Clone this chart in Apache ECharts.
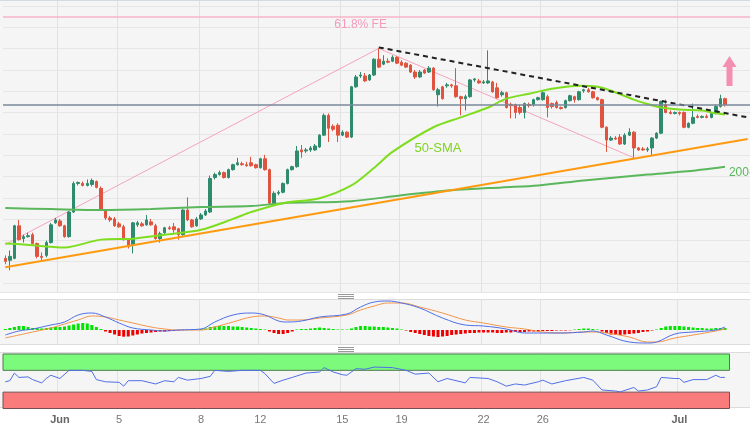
<!DOCTYPE html>
<html><head><meta charset="utf-8">
<script src="https://cdn.jsdelivr.net/npm/echarts/dist/echarts.min.js"></script>
<style>
html,body{margin:0;padding:0;background:#fff;}
#c{width:750px;height:430px;background:linear-gradient(to bottom,
 #d3dae6 0px,#d3dae6 1px,#f5f5f5 1px,#f5f5f5 292px,#e6e6e6 292px,#e6e6e6 293px,
 #ffffff 293px,#ffffff 299px,#dcdcdc 299px,#dcdcdc 300px,#f5f5f5 300px,#f5f5f5 344px,
 #dcdcdc 344px,#dcdcdc 345px,#ffffff 345px,#ffffff 352px,#dcdcdc 352px,#dcdcdc 353px,
 #f5f5f5 353px,#f5f5f5 407px,#dcdcdc 407px,#dcdcdc 408px,#ffffff 408px,#ffffff 430px);}
</style></head>
<body><div id="c"></div>
<script>
// 4-hour sessions: [day, first hour, number of bars]
const sessions = [['May 30',0,6],['May 31',0,6],['Jun 1',0,6],['Jun 2',0,6],['Jun 4',20,1],['Jun 5',0,6],['Jun 6',0,6],['Jun 7',0,6],['Jun 8',0,6],['Jun 9',0,6],['Jun 11',20,1],['Jun 12',0,6],['Jun 13',0,6],['Jun 14',0,6],['Jun 15',0,6],['Jun 16',0,6],['Jun 18',20,1],['Jun 19',0,6],['Jun 20',0,6],['Jun 21',0,6],['Jun 22',0,6],['Jun 23',0,6],['Jun 25',20,1],['Jun 26',0,6],['Jun 27',0,6],['Jun 28',0,6],['Jun 29',0,6],['Jun 30',0,6],['Jul 3',0,6],['Jul 4',0,6],['Jul 5',0,4]];
const tickLabels = {'Jun 1 00:00':'Jun','Jun 5 00:00':'5','Jun 8 00:00':'8','Jun 12 00:00':'12','Jun 15 00:00':'15','Jun 19 00:00':'19','Jun 22 00:00':'22','Jun 26 00:00':'26','Jul 3 00:00':'Jul'};

// candles: [open, close, low, high]
const ohlc = [
[.6010,.6007,.6004,.6013],[.6008,.6012,.5998,.6018],[.6010,.6043,.6009,.6044],[.6043,.6029,.6028,.6049],[.6030,.6032,.6026,.6034],[.6032,.6033,.6031,.6036],
[.6034,.6025,.6024,.6036],[.6025,.6012,.6010,.6026],[.6012,.6011,.6007,.6016],[.6013,.6026,.6011,.6028],[.6026,.6044,.6025,.6046],[.6046,.6049,.6045,.6051],
[.6048,.6043,.6042,.6050],[.6043,.6032,.6031,.6044],[.6032,.6057,.6031,.6058],[.6057,.6086,.6056,.6088],[.6086,.6087,.6084,.6088],[.6086,.6084,.6083,.6088],
[.6084,.6086,.6083,.6090],[.6085,.6089,.6083,.6091],[.6088,.6082,.6081,.6089],[.6081,.6059,.6058,.6083],[.6058,.6051,.6049,.6059],[.6051,.6049,.6047,.6053],
[.6050,.6043,.6042,.6052],[.6045,.6042,.6041,.6047],[.6042,.6029,.6028,.6044],[.6029,.6022,.6020,.6030],[.6024,.6046,.6015,.6047],[.6044,.6046,.6042,.6048],
[.6045,.6043,.6042,.6047],[.6044,.6049,.6043,.6054],[.6047,.6044,.6043,.6050],[.6043,.6030,.6029,.6045],[.6030,.6035,.6026,.6037],[.6036,.6041,.6034,.6042],
[.6041,.6040,.6039,.6043],[.6042,.6039,.6036,.6046],[.6040,.6034,.6029,.6041],[.6034,.6059,.6033,.6060],[.6059,.6049,.6048,.6072],[.6049,.6042,.6041,.6050],
[.6043,.6050,.6042,.6052],[.6050,.6054,.6049,.6056],[.6054,.6058,.6053,.6060],[.6057,.6091,.6056,.6094],[.6092,.6095,.6090,.6097],[.6095,.6097,.6094,.6099],
[.6097,.6092,.6091,.6098],[.6092,.6100,.6091,.6101],[.6100,.6105,.6099,.6106],[.6105,.6107,.6104,.6112],[.6106,.6105,.6104,.6108],[.6105,.6104,.6103,.6108],
[.6107,.6104,.6103,.6113],[.6105,.6102,.6101,.6106],[.6102,.6111,.6101,.6112],[.6111,.6100,.6099,.6115],[.6100,.6066,.6065,.6101],[.6066,.6076,.6064,.6078],
[.6076,.6077,.6074,.6079],[.6077,.6086,.6076,.6087],[.6086,.6100,.6085,.6101],[.6100,.6103,.6099,.6104],[.6103,.6119,.6102,.6124],[.6120,.6118,.6112,.6125],
[.6119,.6120,.6117,.6122],[.6120,.6122,.6118,.6124],[.6120,.6124,.6119,.6126],[.6123,.6135,.6122,.6136],[.6135,.6155,.6134,.6157],[.6155,.6142,.6128,.6157],
[.6144,.6141,.6139,.6146],[.6145,.6135,.6128,.6147],[.6135,.6138,.6134,.6140],[.6138,.6133,.6132,.6139],[.6133,.6184,.6132,.6185],[.6184,.6194,.6183,.6196],
[.6195,.6196,.6193,.6199],[.6195,.6190,.6189,.6198],[.6191,.6196,.6190,.6197],[.6196,.6212,.6195,.6213],[.6212,.6204,.6203,.6223],[.6207,.6210,.6206,.6216],
[.6210,.6209,.6208,.6213],[.6210,.6214,.6209,.6216],[.6214,.6208,.6207,.6215],[.6209,.6206,.6205,.6211],[.6208,.6204,.6203,.6209],[.6206,.6199,.6198,.6207],
[.6199,.6194,.6192,.6201],[.6194,.6199,.6193,.6201],[.6201,.6198,.6197,.6202],[.6199,.6203,.6198,.6205],[.6203,.6181,.6180,.6204],[.6176,.6181,.6164,.6183],
[.6184,.6172,.6171,.6185],[.6185,.6186,.6183,.6188],[.6186,.6185,.6183,.6187],[.6185,.6174,.6173,.6203],[.6174,.6172,.6155,.6175],[.6172,.6174,.6160,.6176],
[.6174,.6191,.6173,.6192],[.6191,.6192,.6189,.6193],[.6190,.6188,.6187,.6192],[.6188,.6189,.6187,.6191],[.6188,.6190,.6187,.6221],[.6189,.6179,.6178,.6190],
[.6183,.6173,.6172,.6188],[.6176,.6178,.6174,.6180],[.6178,.6163,.6162,.6179],[.6166,.6165,.6152,.6168],[.6166,.6158,.6152,.6167],[.6163,.6158,.6156,.6166],
[.6158,.6167,.6152,.6168],[.6166,.6165,.6163,.6168],[.6166,.6171,.6164,.6172],[.6171,.6173,.6170,.6174],[.6171,.6178,.6170,.6180],[.6174,.6163,.6153,.6176],
[.6167,.6164,.6162,.6168],[.6168,.6163,.6162,.6170],[.6163,.6162,.6161,.6164],[.6163,.6170,.6162,.6171],[.6170,.6175,.6169,.6176],[.6174,.6171,.6168,.6175],
[.6171,.6179,.6170,.6180],[.6180,.6181,.6178,.6182],[.6181,.6179,.6178,.6183],[.6179,.6173,.6172,.6180],[.6173,.6171,.6170,.6174],[.6171,.6143,.6142,.6172],
[.6143,.6130,.6118,.6144],[.6130,.6132,.6129,.6134],[.6132,.6131,.6130,.6134],[.6133,.6126,.6125,.6136],[.6126,.6135,.6125,.6137],[.6135,.6138,.6134,.6142],
[.6138,.6122,.6112,.6139],[.6122,.6120,.6119,.6123],[.6121,.6120,.6119,.6123],[.6120,.6121,.6118,.6123],[.6122,.6132,.6115,.6133],[.6132,.6137,.6131,.6138],
[.6137,.6169,.6136,.6170],[.6166,.6158,.6157,.6171],[.6158,.6157,.6156,.6160],[.6157,.6158,.6156,.6159],[.6158,.6157,.6155,.6159],[.6158,.6143,.6142,.6159],
[.6143,.6147,.6142,.6148],[.6147,.6153,.6146,.6167],[.6154,.6153,.6152,.6156],[.6153,.6154,.6152,.6155],[.6154,.6153,.6152,.6156],[.6153,.6157,.6152,.6158],
[.6157,.6164,.6156,.6166],[.6164,.6172,.6163,.6176],[.6172,.6166,.6164,.6173]
];

// moving averages: [bar index, value]
const sma50 = [[0,.6025],[4,.6024],[13,.6021],[21,.6029],[28,.6030],[35,.6034],[43,.6039],[50,.6050],[54,.6057],[61,.6066],[69,.6071],[76,.6084],[81,.6102],[85,.6118],[94,.6143],[100,.6153],[106,.6163],[110,.6172],[115,.6177],[120,.6182],[126,.6185],[130,.6184],[133,.6180],[138,.6171],[140,.6168],[144,.6163],[148,.6161],[153,.6160],[155,.6158],[158,.6156]];
const sma200 = [[0,.6061],[10,.6060],[21,.6059],[32,.6060],[43,.6062],[54,.6063],[61,.6066],[76,.6068],[87,.6074],[98,.6079],[109,.6082],[117,.6084],[127,.6089],[141,.6095],[149,.6098],[158,.6103]];

// drawn studies
const supportLine = [[0,.6001],[163,.6131]];
const resistanceLine = [[82,.6224],[163,.6153]];
const feSwing = [[0,.6024],[82,.6223],[138,.6112]];
const fe618 = 0.6255;
const lastPrice = 0.6166;

// MACD panel
const macdLine = [[0,-.0005],[3,-.0001],[6,.0001],[10,.0005],[13,.0008],[16,.0015],[19,.0017],[22,.0013],[25,.0007],[28,.0002],[32,0],[35,-.0001],[38,0],[43,.0001],[46,.0008],[50,.0015],[54,.0017],[57,.0015],[60,.0009],[62,.0008],[65,.0009],[69,.0013],[75,.0016],[78,.0023],[81,.0028],[84,.0029],[87,.0027],[91,.0022],[96,.0012],[101,.0005],[105,.0004],[110,.0001],[114,-.0003],[118,-.0003],[122,-.0003],[127,-.0002],[129,-.0001],[132,-.0005],[137,-.0012],[141,-.0013],[143,-.0012],[147,-.0004],[151,-.0002],[156,0],[158,.0003]];
const signalLine = [[0,-.0008],[3,-.0005],[6,-.0002],[10,.0002],[13,.0006],[16,.0010],[19,.0014],[22,.0013],[25,.0010],[28,.0007],[32,.0003],[35,.0001],[38,0],[43,0],[46,.0003],[50,.0008],[54,.0013],[57,.0014],[60,.0012],[62,.0010],[65,.0010],[69,.0012],[75,.0015],[78,.0020],[81,.0024],[84,.0027],[87,.0027],[91,.0023],[96,.0017],[101,.0010],[105,.0007],[110,.0003],[114,.0001],[118,-.0002],[122,-.0003],[127,-.0002],[129,-.0002],[132,-.0003],[137,-.0007],[141,-.0012],[143,-.0012],[147,-.0008],[151,-.0005],[156,-.0001],[158,.0001]];
const macdHist = [
.0001,.0002,.0003,.0004,.0004,.0003,.0002,.0002,.00015,.0002,.00025,.0003,.0003,.00035,.00045,.00055,.00065,.0007,.00065,.0005,.0003,.0001,
-.00015,-.0003,-.00045,-.0006,-.00067,-.00065,-.00055,-.00045,-.00035,-.0003,-.00025,
-.0002,-.00015,-.00015,-.0001,-.0001,-.00005,-.00003,0,.00003,.00005,.0001,.00015,
.0003,.00035,.0004,.0004,.0004,.00035,.00035,.0003,.00025,.0002,.00015,.0001,.00005,
-.00015,-.0003,-.0004,-.0004,-.0003,-.00015,
.00005,.0001,.0001,.00015,.0002,.00025,.0002,.00015,.0001,.00005,.00005,.00005,
.00015,.0003,.0004,.0004,.00035,.00035,.0003,.0003,.00025,.0002,.00015,.00005,-.00005,
-.0002,-.0003,-.0004,-.0005,-.0006,-.00065,-.0007,-.00065,-.0006,-.0005,-.00045,-.0004,
-.00035,-.0003,-.0003,-.00025,-.00025,-.00025,-.00025,-.0003,-.0003,-.00025,-.00025,-.0002,-.0002,-.0002,-.00015,-.00015,
-.00015,-.0001,-.0001,-.0001,-.00005,-.00005,-.00005,-.00003,
.00005,.0001,.00015,.00015,.0001,.00005,
-.00015,-.0003,-.00045,-.0005,-.0005,-.00045,-.0004,-.00035,-.0003,-.0002,-.00015,-.00005,
.00005,.0002,.00035,.0004,.0004,.0004,.00035,.0003,.00025,
.0002,.0002,.00015,.00015,.0002,.0002,.0002];

// RSI panel
const rsi = [[0,49],[1,51],[2,65],[3,57],[5,58],[6,53],[8,47],[9,55],[10,61],[12,55],[14,70],[17,70],[19,68],[20,53],[22,49],[25,48],[26,41],[27,51],[30,51],[33,45],[35,51],[37,49],[38,57],[40,52],[43,55],[45,59],[46,70],[49,68],[52,70],[56,70],[57,64],[59,46],[61,52],[63,57],[66,65],[69,67],[70,75],[72,67],[74,62],[75,61],[77,73],[79,72],[81,76],[85,75],[88,70],[90,63],[93,65],[95,49],[97,55],[101,47],[102,57],[106,55],[108,49],[110,41],[112,45],[114,43],[117,49],[118,52],[120,45],[123,51],[127,57],[129,52],[131,34],[134,32],[135,30.5],[138,38.5],[139,32],[141,34],[143,40],[144,57],[147,55],[148,55],[149,48],[151,53],[154,53],[156,61],[157,57],[158,57]];
const rsiOverbought = 70, rsiOversold = 30;

// ---- build ----
const cats = [];
sessions.forEach(([d, h0, n]) => { for (let k = 0; k < n; k++) { const h = h0 + 4 * k; cats.push(d + ' ' + String(h).padStart(2, '0') + ':00'); } });
const isTick = (i, v) => Object.prototype.hasOwnProperty.call(tickLabels, v);
const FONT = 'Liberation Sans, Arial, sans-serif';
const L = 3, R = 0;
const vGrid = { show: true, interval: isTick, lineStyle: { color: '#e2e2e2', width: 1 } };
const catAxis = (gi, extra) => Object.assign({
  type: 'category', data: cats, gridIndex: gi, boundaryGap: true,
  axisLine: { show: false }, axisTick: { show: false }, axisLabel: { show: false }, splitLine: { show: false }
}, extra || {});

const chart = echarts.init(document.getElementById('c'), null, { renderer: 'canvas' });
chart.setOption({
  animation: false,
  textStyle: { fontFamily: FONT },
  grid: [
    { left: L, right: R, top: 6, height: 277 },
    { left: L, right: R, top: 1, height: 291 },
    { left: L, right: R, top: 300, height: 44 },
    { left: L, right: R, top: 353, height: 55.5 }
  ],
  xAxis: [
    catAxis(0),
    catAxis(1, { splitLine: vGrid }),
    catAxis(2, { splitLine: vGrid }),
    catAxis(3, { splitLine: vGrid, axisLabel: {
      show: true, interval: isTick, margin: 6, fontSize: 11, fontFamily: FONT,
      formatter: v => { const t = tickLabels[v]; if (!t) return ''; return /\d/.test(t) ? '{n|' + t + '}' : '{b|' + t + '}'; },
      rich: { n: { color: '#777', fontSize: 11, fontFamily: FONT }, b: { color: '#666', fontSize: 11, fontWeight: 'bold', fontFamily: FONT } }
    } })
  ],
  yAxis: [
    { type: 'value', gridIndex: 0, min: 0.5985, max: 0.6266, show: false },
    { type: 'value', gridIndex: 0, min: 0, max: 13, interval: 1, axisLine: { show: false }, axisTick: { show: false }, axisLabel: { show: false }, splitLine: { show: true, lineStyle: { color: '#e6e6e6', width: 1 } } },
    { type: 'value', gridIndex: 1, min: 0, max: 1, show: false },
    { type: 'value', gridIndex: 2, min: -0.0014, max: 0.003, show: false },
    { type: 'value', gridIndex: 3, min: 0, max: 101.8, show: false }
  ],
  graphic: [
    { type: 'group', left: 338, top: 294, children: [0, 2, 4].map(y => ({ type: 'rect', shape: { x: 0, y: y, width: 16, height: 1 }, style: { fill: '#999' } })) },
    { type: 'group', left: 338, top: 347, children: [0, 2, 4].map(y => ({ type: 'rect', shape: { x: 0, y: y, width: 16, height: 1 }, style: { fill: '#999' } })) }
  ],
  series: [
    { type: 'line', xAxisIndex: 0, yAxisIndex: 0, data: feSwing, symbol: 'none', silent: true, z: 1,
      lineStyle: { color: '#f5a3bd', width: 1 },
      markLine: { silent: true, precision: 4, symbol: ['none', 'none'], label: { show: false },
        data: [
          { yAxis: lastPrice, lineStyle: { color: '#7a889b', width: 1.5, type: 'solid' } },
          { yAxis: fe618, lineStyle: { color: '#f7b3c9', width: 1.5, type: 'solid' } }
        ] } },
    { type: 'candlestick', xAxisIndex: 0, yAxisIndex: 0, data: ohlc, barWidth: 3, z: 3,
      itemStyle: { color: '#2f8b6d', color0: '#e0533f', borderColor: '#2f8b6d', borderColor0: '#e0533f', borderWidth: 1 },
      markPoint: { silent: true,
        data: [
          { coord: [cats[78], 0.62475], symbol: 'circle', symbolSize: 1, itemStyle: { color: 'rgba(0,0,0,0)' },
            label: { show: true, position: 'inside', formatter: '61.8% FE', color: '#f39bbb', fontSize: 12, fontFamily: FONT } },
          { coord: [cats[159], 0.6200], symbol: 'path://M7,0L14,11L10,11L10,30L4,30L4,11L0,11Z', symbolSize: [14, 30],
            itemStyle: { color: '#f48fb1' }, label: { show: false } }
        ] } },
    { type: 'line', xAxisIndex: 0, yAxisIndex: 0, data: sma200, smooth: 0.3, symbol: 'none', z: 4,
      lineStyle: { color: '#5bb75b', width: 2 },
      endLabel: { show: true, formatter: '200-SMA', color: '#5bb75b', fontSize: 12, fontFamily: FONT, distance: 4, offset: [0, 6] } },
    { type: 'line', xAxisIndex: 0, yAxisIndex: 0, data: sma50, smooth: 0.3, symbol: 'none', z: 4,
      lineStyle: { color: '#7fdd1f', width: 2 },
      markPoint: { silent: true, data: [ { coord: [cats[95], 0.6122], symbol: 'circle', symbolSize: 1, itemStyle: { color: 'rgba(0,0,0,0)' },
        label: { show: true, position: 'inside', formatter: '50-SMA', color: '#7fd422', fontSize: 13, fontFamily: FONT } } ] } },
    { type: 'line', xAxisIndex: 0, yAxisIndex: 0, data: supportLine, symbol: 'none', z: 4,
      lineStyle: { color: '#ff9a10', width: 2 } },
    { type: 'line', xAxisIndex: 0, yAxisIndex: 0, data: resistanceLine, symbol: 'none', z: 4,
      lineStyle: { color: '#222', width: 2, type: [5, 4] } },

    { type: 'bar', xAxisIndex: 2, yAxisIndex: 3, data: macdHist, barWidth: 3, silent: true,
      itemStyle: { color: p => p.value >= 0 ? '#00e400' : '#ee0000' } },
    { type: 'line', xAxisIndex: 2, yAxisIndex: 3, data: signalLine, smooth: 0.4, symbol: 'none', lineStyle: { color: '#f2954a', width: 1 } },
    { type: 'line', xAxisIndex: 2, yAxisIndex: 3, data: macdLine, smooth: 0.4, symbol: 'none', lineStyle: { color: '#4f6fe6', width: 1 } },

    { type: 'line', xAxisIndex: 3, yAxisIndex: 4, data: rsi, symbol: 'none', lineStyle: { color: '#4f6fe6', width: 1 }, z: 5,
      markArea: { silent: true, data: [
        [ { yAxis: rsiOverbought, itemStyle: { color: '#7cfa7c', borderColor: '#4e7a4e', borderWidth: 1 } }, { xAxis: cats[159], yAxis: 100 } ],
        [ { yAxis: 0, itemStyle: { color: '#fa7b7b', borderColor: '#7a4e4e', borderWidth: 1 } }, { xAxis: cats[159], yAxis: rsiOversold } ]
      ] } }
  ]
});
</script>
</body></html>
